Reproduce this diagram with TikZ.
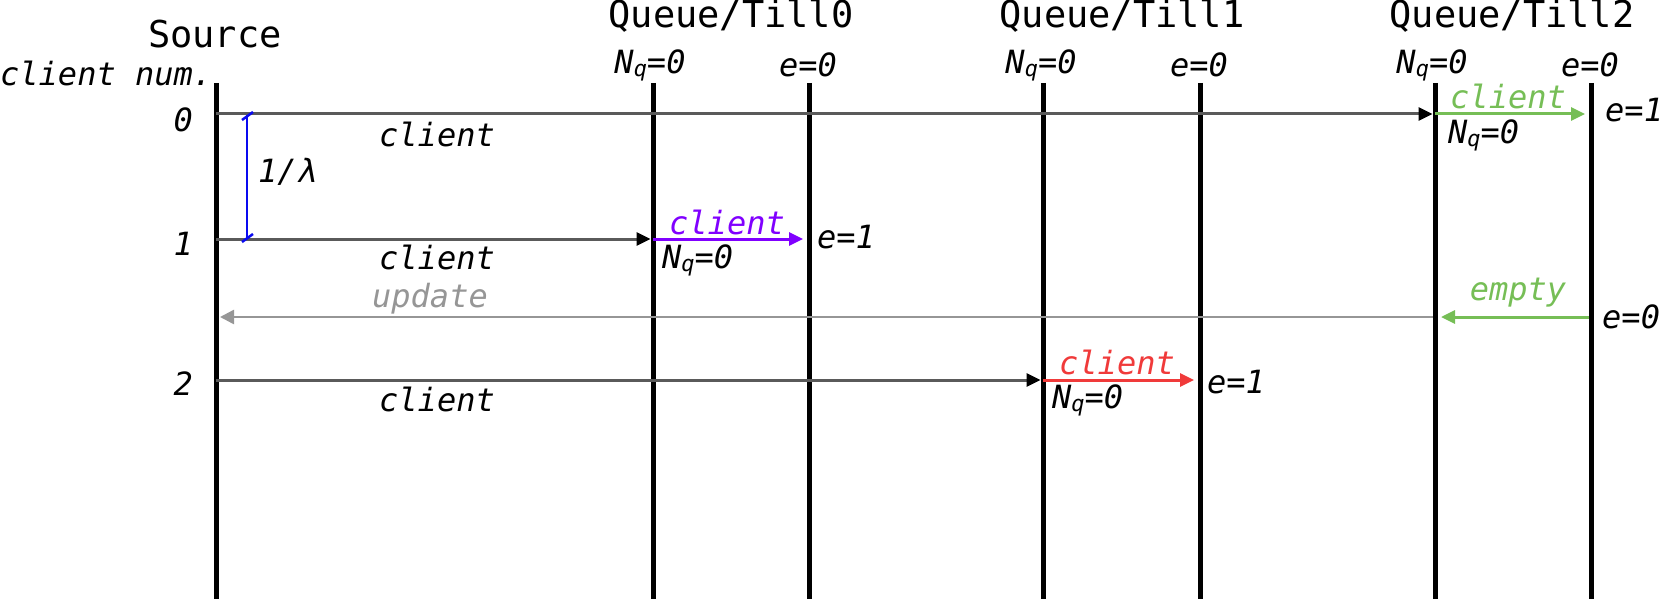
\documentclass[tikz,border=0pt]{standalone}
\usepackage{fontspec}
\newfontfamily\mono{DejaVu Sans Mono}
\usetikzlibrary{arrows.meta}
\definecolor{rowgray}{RGB}{90,90,90}
\definecolor{updgray}{RGB}{150,150,150}
\definecolor{grn}{RGB}{118,190,86}
\definecolor{purp}{RGB}{128,0,255}
\definecolor{redc}{RGB}{240,58,58}
\definecolor{lamblue}{RGB}{10,10,240}
\newcommand\lab{\mono\itshape\fontsize{32}{36}\selectfont}
\newcommand\ttl{\mono\fontsize{37}{40}\selectfont}
\newcommand\Nqz{N\raisebox{-3pt}{\fontsize{22}{22}\selectfont q}=0}
\begin{document}
\begin{tikzpicture}[x=1pt,y=-1pt,
  lifeline/.style={line width=5pt},
  msg/.style={line width=3pt},
  txt/.style={inner sep=0pt, font=\lab},
  ttlnode/.style={inner sep=0pt, font=\ttl, anchor=base}]
\useasboundingbox (0,0) rectangle (1659,599);
% lifelines
\foreach \n/\x in {s/216,q0a/653,q0b/809,q1a/1043,q1b/1200,q2a/1435,q2b/1591}{
  \coordinate (\n-t) at (\x,83);
  \coordinate (\n-b) at (\x,600);
  \draw[lifeline] (\n-t) -- (\n-b);
}
% row points
\coordinate (s-r0) at (216,114);
\coordinate (q2a-r0) at (1435,114);
\coordinate (q2b-r0) at (1591,114);
\coordinate (s-r1) at (216,239);
\coordinate (q0a-r1) at (653,239);
\coordinate (q0b-r1) at (809,239);
\coordinate (s-u) at (216,317);
\coordinate (q2a-u) at (1435,317);
\coordinate (q2b-u) at (1591,317);
\coordinate (s-r2) at (216,380);
\coordinate (q1a-r2) at (1043,380);
\coordinate (q1b-r2) at (1200,380);
% titles
\node[ttlnode] (tsrc) at (215,48) {Source};
\node[ttlnode] (tq0) at (731,28) {Queue/Till0};
\node[ttlnode] (tq1) at (1122,28) {Queue/Till1};
\node[ttlnode] (tq2) at (1512,28) {Queue/Till2};
\node[txt, anchor=base west] (cnum) at (0,86) {client num.};
% top state labels
\node[txt] (nq0) at (650,65) {\Nqz};
\node[txt] (e0) at (808,65) {e=0};
\node[txt] (nq1) at (1041,65) {\Nqz};
\node[txt] (e1) at (1199,65) {e=0};
\node[txt] (nq2) at (1432,65) {\Nqz};
\node[txt] (e2) at (1590,65) {e=0};
% row numbers
\node[txt, anchor=east] (n0) at (193,120) {0};
\node[txt, anchor=east] (n1) at (193,244) {1};
\node[txt, anchor=east] (n2) at (193,384) {2};
% source messages
\draw[msg, rowgray, -{Triangle[length=14pt,width=13pt,color=black]}, shorten >=2.5pt] (s-r0) -- (q2a-r0);
\draw[msg, rowgray, -{Triangle[length=14pt,width=13pt,color=black]}, shorten >=2.5pt] (s-r1) -- (q0a-r1);
\draw[msg, rowgray, -{Triangle[length=14pt,width=13pt,color=black]}, shorten >=2.5pt] (s-r2) -- (q1a-r2);
\node[txt] (c0) at (437,134) {client};
\node[txt] (c1) at (437,257) {client};
\node[txt] (c2) at (437,399) {client};
% 1/lambda interval
\coordinate (lamT) at (247,115);
\coordinate (lamB) at (247,238);
\draw[lamblue, line width=2.5pt] (lamT) -- (lamB);
\draw[lamblue, line width=2.5pt] ([shift={(-5,5)}]lamT) -- ([shift={(6,-3)}]lamT);
\draw[lamblue, line width=2.5pt] ([shift={(-5,4)}]lamB) -- ([shift={(6,-4)}]lamB);
\node[txt, anchor=west] (lam) at (258,172) {1/λ};
% till0
\draw[msg, purp, -{Triangle[length=14pt,width=13pt]}, shorten >=6pt] (q0a-r1) -- (q0b-r1);
\node[txt, text=purp] (pc) at (727,222) {client};
\node[txt, anchor=west] (pnq) at (662,260) {\Nqz};
\node[txt, anchor=west] (pe) at (817,237) {e=1};
% till1
\draw[msg, redc, -{Triangle[length=14pt,width=13pt]}, shorten >=6pt] (q1a-r2) -- (q1b-r2);
\node[txt, text=redc] (rc) at (1117,362) {client};
\node[txt, anchor=west] (rnq) at (1052,400) {\Nqz};
\node[txt, anchor=west] (re) at (1207,382) {e=1};
% till2
\draw[msg, grn, -{Triangle[length=14pt,width=13pt]}, shorten >=6pt] (q2a-r0) -- (q2b-r0);
\node[txt, text=grn] (gc) at (1508,96) {client};
\node[txt, anchor=west] (gnq) at (1448,135) {\Nqz};
\node[txt, anchor=west] (ge) at (1605,110) {e=1};
\draw[msg, grn, -{Triangle[length=14pt,width=13pt]}, shorten <=2pt, shorten >=6pt] (q2b-u) -- (q2a-u);
\node[txt, text=grn] (em) at (1518,293) {empty};
\node[txt, anchor=west] (ge0) at (1602,317) {e=0};
% update
\draw[updgray, line width=2.5pt, -{Triangle[length=14pt,width=14pt]}, shorten <=2pt, shorten >=4pt] (q2a-u) -- (s-u);
\node[txt, text=updgray] (up) at (430,299) {update};
\end{tikzpicture}
\end{document}
